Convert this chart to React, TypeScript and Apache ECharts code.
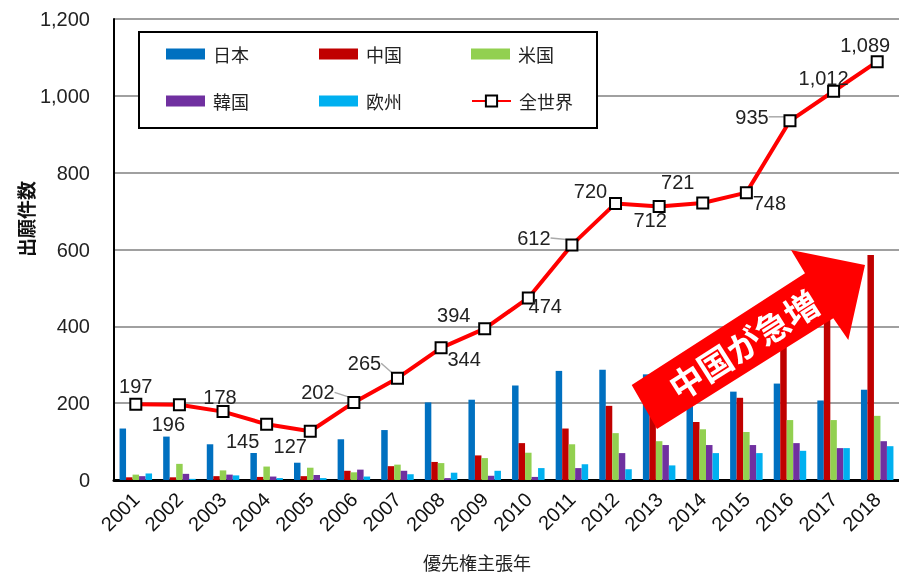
import React, { useEffect, useRef } from 'react';
import * as echarts from 'echarts';

const years = ['2001','2002','2003','2004','2005','2006','2007','2008','2009','2010','2011','2012','2013','2014','2015','2016','2017','2018'];
const japan = [134,113,93,70,45,106,130,202,209,246,284,287,275,210,230,251,207,235];
const china = [7,7,10,8,10,24,36,47,64,96,134,193,190,151,214,380,470,586];
const usa = [14,42,25,35,32,20,40,44,57,71,93,122,101,132,125,156,156,167];
const korea = [10,16,14,9,13,27,24,5,11,8,31,70,91,91,91,96,83,101];
const europe = [17,3,12,5,5,9,15,19,24,31,41,28,38,70,70,76,83,88];
const world = [197,196,178,145,127,202,265,344,394,474,612,720,712,721,748,935,1012,1089];

const barNames = ['日本', '中国', '米国', '韓国', '欧州'];
const worldName = '全世界';
const yAxisTitle = '出願件数';
const xAxisTitle = '優先権主張年';
const calloutText = '中国が急増';

const barColors = ['#0070C0', '#C00000', '#92D050', '#7030A0', '#00B0F0'];
const labelOffsets = [[0,-18],[-11,19],[-3,-15],[-24,17],[-20,15],[-36,-10],[-33,-15],[23,11],[-31,-14],[17,8],[-38,-7],[-25,-12],[-9,14],[-25,-21],[23,10],[-38,-4],[-10,-13],[-12,-17]];
const leaderIdx = [5, 6, 10, 15];

const FONT = '"Liberation Sans", Arial, sans-serif';
const JFONT = '"Noto Sans CJK JP", sans-serif';

export default function App() {
  const ref = useRef<HTMLDivElement>(null);
  useEffect(() => {
    const chart = echarts.init(ref.current!, null, { renderer: 'svg' });
    const barData = [japan, china, usa, korea, europe];
    const fmt = (v: number) => v.toLocaleString('en-US');

    const legendPos = [
      [166, 45], [319, 45], [471, 45],
      [166, 92], [319, 92], [471, 92],
    ];
    const legendNames = [...barNames.slice(0, 3), barNames[3], barNames[4], worldName];

    const arrowPts = [
      [631.7, 385], [805, 273.3], [791, 250], [865, 265], [848.3, 340], [833.3, 318.3], [657, 429],
    ];

    const option: any = {
      animation: false,
      grid: { left: 114, right: -5, top: 19, bottom: 96, containLabel: false },
      legend: legendNames.map((n, i) => ({
        data: [n],
        left: legendPos[i][0],
        top: legendPos[i][1],
        padding: 0,
        itemWidth: 39,
        itemHeight: i === 5 ? 14 : 11,
        z: 5,
        icon: i === 5 ? undefined : 'rect',
        textStyle: { fontFamily: JFONT, fontSize: 18, color: '#222', padding: [0, 0, 0, 3] },
      })),
      xAxis: {
        type: 'category',
        data: years,
        axisTick: { show: false },
        axisLine: { lineStyle: { color: '#000', width: 3 } },
        axisLabel: { rotate: 45, margin: 16, fontFamily: FONT, fontSize: 20, color: '#111' },
      },
      yAxis: {
        type: 'value',
        min: 0,
        max: 1200,
        interval: 200,
        axisLine: { show: true, lineStyle: { color: '#000', width: 2 } },
        axisTick: { show: false },
        splitLine: { lineStyle: { color: '#808080', width: 1.5 } },
        axisLabel: { margin: 24, fontFamily: FONT, fontSize: 20, color: '#222', formatter: fmt },
      },
      graphic: [
        {
          type: 'rect', z: 3,
          shape: { x: 139, y: 32, width: 458, height: 96 },
          style: { fill: '#fff', stroke: '#000', lineWidth: 2 },
        },
        {
          type: 'polygon', z: 3,
          shape: { points: arrowPts },
          style: { fill: '#FF0000' },
        },
        {
          type: 'text', z: 4,
          x: 743, y: 344,
          rotation: (32.5 * Math.PI) / 180,
          style: {
            text: calloutText, fill: '#fff', fontFamily: JFONT, fontSize: 34, fontWeight: 'bold',
            align: 'center', verticalAlign: 'middle',
          },
        },
        {
          type: 'text',
          x: 25, y: 219,
          rotation: Math.PI / 2,
          style: {
            text: yAxisTitle, fill: '#111', fontFamily: JFONT, fontSize: 19, fontWeight: 'bold',
            align: 'center', verticalAlign: 'middle',
          },
        },
        {
          type: 'text',
          x: 477, y: 562,
          style: {
            text: xAxisTitle, fill: '#222', fontFamily: JFONT, fontSize: 18,
            align: 'center', verticalAlign: 'middle',
          },
        },
      ],
      series: [
        ...barNames.map((n, i) => ({
          name: n,
          type: 'bar',
          data: barData[i],
          barWidth: 6.5,
          barGap: '0%',
          itemStyle: { color: barColors[i] },
        })),
        {
          name: worldName,
          type: 'line',
          data: world.map((v, i) => ({
            value: v,
            label: { offset: labelOffsets[i] },
            labelLine: leaderIdx.includes(i)
              ? { show: true, lineStyle: { color: '#aaa', width: 1.5 } }
              : { show: false },
          })),
          symbol: 'rect',
          symbolSize: 11,
          lineStyle: { color: '#FF0000', width: 4 },
          itemStyle: { color: '#fff', borderColor: '#000', borderWidth: 2 },
          z: 6,
          label: {
            show: true,
            position: 'inside',
            align: 'center',
            verticalAlign: 'middle',
            fontFamily: FONT,
            fontSize: 20,
            color: '#222',
            formatter: (p: any) => fmt(p.value),
          },
        },
      ],
    };
    chart.setOption(option);
    return () => chart.dispose();
  }, []);
  return <div ref={ref} style={{ position: 'fixed', left: 0, top: 0, width: 899, height: 576 }} />;
}
